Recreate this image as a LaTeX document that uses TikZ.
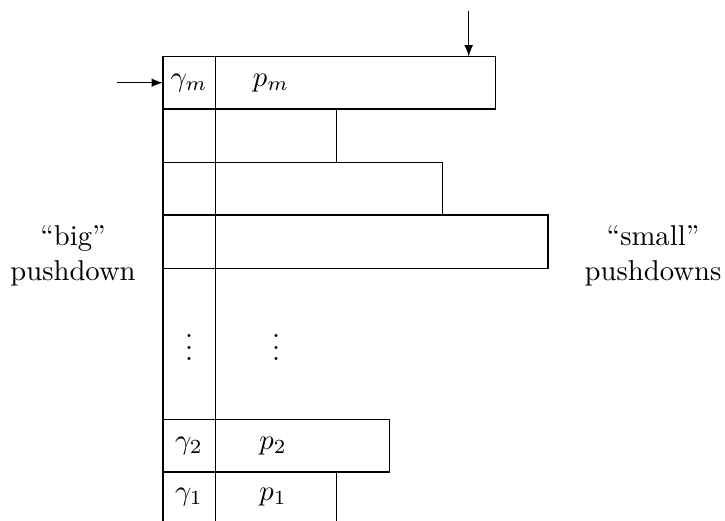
\documentclass[tikz,border=0pt]{standalone}
\usetikzlibrary{arrows}
\begin{document}
\begin{tikzpicture}[x=0.3486pt,y=-0.3486pt,
  cell/.style={draw,line width=0.4pt},
  lbl/.style={inner sep=0pt},
  arr/.style={-latex,line width=0.4pt}]
\useasboundingbox (0,0) rectangle (725,521);
% left column vertical lines
\draw[cell] (163,521) -- (163,56.7) -- (215.7,56.7) -- (215.7,521);
% row m
\draw[cell] (215.7,56.7) -- (495.7,56.7) -- (495.7,109) -- (163,109);
% row 2
\draw[cell] (336.7,109) -- (336.7,162.3);
\draw[cell] (163,162.3) -- (442.3,162.3) -- (442.3,215);
\draw[cell] (163,215) -- (548,215) -- (548,268.3) -- (163,268.3);
% lower rows
\draw[cell] (163,419.3) -- (389.3,419.3) -- (389.3,472) -- (163,472);
\draw[cell] (336.3,472) -- (336.3,521);
% texts
\node[lbl] (gm) at (189,83) {$\gamma_m$};
\node[lbl] (pm) at (271,83) {$p_m$};
\node[lbl] (vd1) at (189,339) {$\vdots$};
\node[lbl] (vd2) at (276,339) {$\vdots$};
\node[lbl] (g2) at (189,446) {$\gamma_2$};
\node[lbl] (p2) at (273,446) {$p_2$};
\node[lbl] (g1) at (189,497) {$\gamma_1$};
\node[lbl] (p1) at (273,497) {$p_1$};
\node[lbl,align=center] (big) at (73,256) {``big''\\pushdown};
\node[lbl,align=center] (small) at (653,256) {``small''\\pushdowns};
% arrows
\coordinate (la) at (117,82.7);
\coordinate (lb) at (163,82.7);
\coordinate (ta) at (468.7,11);
\coordinate (tb) at (468.7,56.7);
\draw[arr] (la) -- (lb);
\draw[arr] (ta) -- (tb);
\end{tikzpicture}
\end{document}
